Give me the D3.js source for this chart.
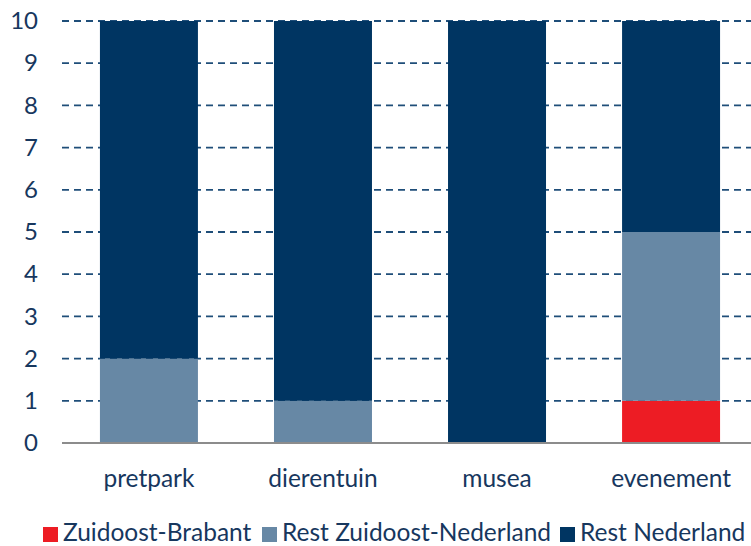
<!DOCTYPE html>
<html>
<head>
<meta charset="utf-8">
<script src="https://cdn.jsdelivr.net/npm/d3@7"></script>
<style>
  body { margin: 0; background: #fff; }
  text { font-family: Lato, "Open Sans", sans-serif; fill: #17375e; }
</style>
</head>
<body>
<svg></svg>
<script>
var WIDTH = 751;
var HEIGHT = 546;

// data
var categories = ['pretpark', 'dierentuin', 'musea', 'evenement'];
var seriesNames = ['Zuidoost-Brabant', 'Rest Zuidoost-Nederland', 'Rest Nederland'];
var zuidoostBrabant = [0, 0, 0, 1];
var restZuidoost = [2, 1, 0, 4];
var restNederland = [8, 9, 10, 5];
var yTicks = [0, 1, 2, 3, 4, 5, 6, 7, 8, 9, 10];
var colors = ['#ed1c24', '#6788a5', '#003562'];

var svg = d3.select('svg')
  .attr('width', WIDTH)
  .attr('height', HEIGHT);

var xScale = d3.scaleBand()
  .domain(categories)
  .range([62, 758])
  .paddingInner(0.437)
  .paddingOuter(0.218);

var yScale = d3.scaleLinear()
  .domain([0, 10])
  .range([443, 21]);

// gridlines
svg.append('g')
  .selectAll('line')
  .data(yTicks.filter(function(d){ return d > 0; }))
  .enter()
  .append('line')
  .attr('x1', 62)
  .attr('x2', WIDTH)
  .attr('y1', function(d){ return yScale(d); })
  .attr('y2', function(d){ return yScale(d); })
  .attr('stroke', '#1f4e79')
  .attr('stroke-width', 1.8)
  .attr('stroke-dasharray', '7,5');

// stack the series
var table = categories.map(function(c, i){
  return { cat: c, s0: zuidoostBrabant[i], s1: restZuidoost[i], s2: restNederland[i] };
});
var stack = d3.stack().keys(['s0', 's1', 's2']);
var layers = stack(table);

svg.append('g')
  .selectAll('g')
  .data(layers)
  .enter()
  .append('g')
  .attr('fill', function(d, i){ return colors[i]; })
  .selectAll('rect')
  .data(function(d){ return d; })
  .enter()
  .append('rect')
  .attr('x', function(d){ return xScale(d.data.cat); })
  .attr('width', xScale.bandwidth())
  .attr('y', function(d){ return yScale(d[1]); })
  .attr('height', function(d){ return yScale(d[0]) - yScale(d[1]); });

// zero line
svg.append('line')
  .attr('x1', 62)
  .attr('x2', WIDTH)
  .attr('y1', yScale(0))
  .attr('y2', yScale(0))
  .attr('stroke', '#8c8c8c')
  .attr('stroke-width', 2);

// y axis labels
var leftAxis = d3.axisLeft(yScale).tickValues(yTicks).tickSize(0).tickPadding(0);
var yAxis = svg.append('g')
  .attr('transform', 'translate(38,0)')
  .call(leftAxis);
yAxis.select('.domain').remove();
yAxis.selectAll('text')
  .attr('font-size', 24)
  .attr('font-family', 'Lato, sans-serif')
  .attr('fill', '#17375e');

// x axis labels
var bottomAxis = d3.axisBottom(xScale).tickSize(0).tickPadding(0);
var xAxis = svg.append('g')
  .call(bottomAxis);
xAxis.select('.domain').remove();
xAxis.selectAll('text')
  .attr('y', 487)
  .attr('dy', null)
  .attr('font-size', 24.5)
  .attr('font-family', 'Lato, sans-serif')
  .attr('fill', '#17375e');

// legend
var legendX = [43, 262, 560];
var legend = svg.append('g')
  .selectAll('g')
  .data(seriesNames)
  .enter()
  .append('g')
  .attr('transform', function(d, i){ return 'translate(' + legendX[i] + ',527)'; });
legend.append('rect')
  .attr('width', 15)
  .attr('height', 15)
  .attr('fill', function(d, i){ return colors[i]; });
legend.append('text')
  .attr('x', 20)
  .attr('y', 14)
  .attr('font-size', 24.5)
  .text(function(d){ return d; });
</script>
</body>
</html>
